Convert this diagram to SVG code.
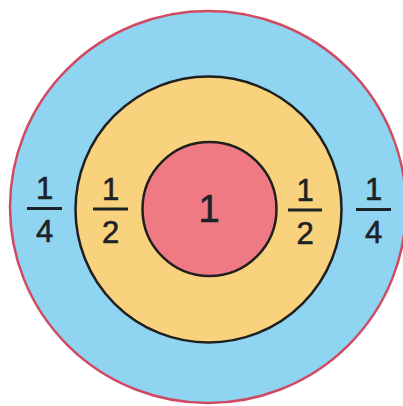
<svg xmlns="http://www.w3.org/2000/svg" width="403" height="406" viewBox="0 0 403 406">
<style>
.t{font-family:"Liberation Sans",Arial,sans-serif;font-size:31px;fill:#1c2326;stroke:#1c2326;stroke-width:0.6;text-anchor:middle}
.c{font-size:38px}
.bar{stroke:#1c2326;stroke-width:3}
</style>
<rect width="403" height="406" fill="#ffffff"/>
<g id="outer">
<ellipse cx="208" cy="207" rx="198" ry="196" fill="#8fd4f1" stroke="#d14a63" stroke-width="2.5"/>
<g id="left-quarter">
<text class="t" x="44.5" y="199">1</text>
<line class="bar" x1="27" y1="208.5" x2="62" y2="208.5"/>
<text class="t" x="44.5" y="242">4</text>
</g>
<g id="right-quarter">
<text class="t" x="373.5" y="200">1</text>
<line class="bar" x1="356" y1="209.5" x2="391" y2="209.5"/>
<text class="t" x="373.5" y="243">4</text>
</g>
</g>
<g id="middle">
<circle cx="208.5" cy="209.5" r="133" fill="#f9d27e" stroke="#1f1f1f" stroke-width="2.5"/>
<g id="left-half">
<text class="t" x="110.5" y="200">1</text>
<line class="bar" x1="93" y1="209" x2="128" y2="209"/>
<text class="t" x="110.5" y="243">2</text>
</g>
<g id="right-half">
<text class="t" x="305" y="201">1</text>
<line class="bar" x1="288" y1="210" x2="322" y2="210"/>
<text class="t" x="305" y="244">2</text>
</g>
</g>
<g id="inner">
<circle cx="209.5" cy="209" r="67" fill="#ef7a84" stroke="#1f1f1f" stroke-width="2.5"/>
<text class="t c" x="209" y="222">1</text>
</g>
</svg>
